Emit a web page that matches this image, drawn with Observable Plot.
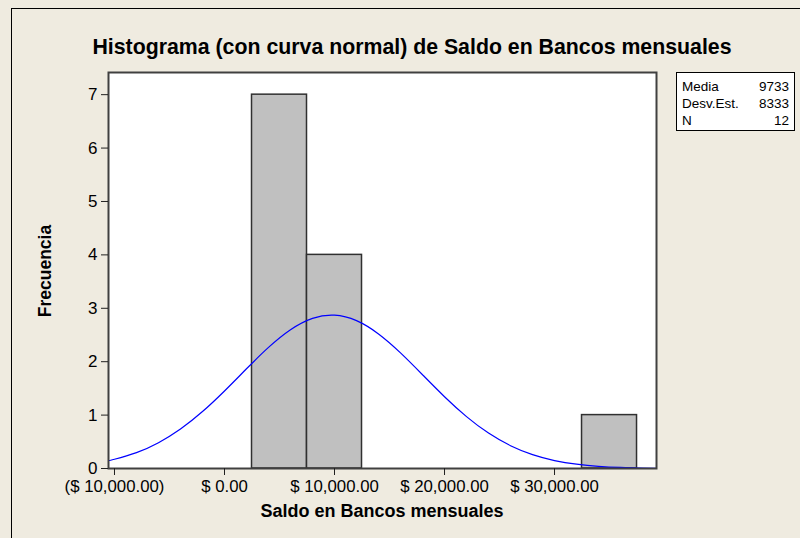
<!DOCTYPE html>
<html>
<head>
<meta charset="utf-8">
<script src="https://cdn.jsdelivr.net/npm/d3@7"></script>
<script src="https://cdn.jsdelivr.net/npm/@observablehq/plot@0.6"></script>
<style>
  html, body { margin: 0; padding: 0; background: #EFEBE0; }
  #wrap { position: relative; width: 800px; height: 538px; overflow: hidden; background: #EFEBE0; font-family: "Liberation Sans", Arial, sans-serif; }
  #border { position: absolute; left: 11px; top: 8px; width: 900px; height: 700px; border-left: 1px solid #000; border-top: 1px solid #000; }
  #chart { position: absolute; left: 0; top: 0; }
  .title { position: absolute; left: 0; width: 824px; top: 35px; text-align: center; font-weight: bold; font-size: 21.3px; color: #000; white-space: nowrap; }
  .xlabel { position: absolute; left: 108px; width: 548px; top: 501px; text-align: center; font-weight: bold; font-size: 18px; white-space: nowrap; }
  .ylabel { position: absolute; left: 45px; top: 271px; transform: translate(-50%, -50%) rotate(-90deg); font-weight: bold; font-size: 17.5px; white-space: nowrap; }
  #legend { position: absolute; left: 676px; top: 72px; width: 117px; border: 1px solid #000; background: #fff; font-size: 13.5px; padding-top: 5px; box-sizing: content-box; height: 52px; }
  #legend .row { position: relative; height: 17px; line-height: 17px; }
  #legend .k { position: absolute; left: 5px; }
  #legend .v { position: absolute; right: 5px; }
</style>
</head>
<body>
<div id="wrap">
  <div id="border"></div>
  <div id="chart"></div>
</div>
<script>
// Histogram bins (lower edge, upper edge) and counts
const binLow   = [2500, 7500, 12500, 17500, 22500, 27500, 32500];
const binHigh  = [7500, 12500, 17500, 22500, 27500, 32500, 37500];
const counts   = [7, 4, 0, 0, 0, 0, 1];

// Normal curve points
const curveX = [-10500, -10000, -8000, -6000, -4000, -2000, 0, 2000, 4000, 6000, 8000, 10000, 12000, 14000, 16000, 18000, 20000, 22000, 24000, 26000, 28000, 30000, 32000, 34000, 36000, 38000, 39270];
const curveY = [0.150, 0.174, 0.298, 0.483, 0.739, 1.066, 1.452, 1.867, 2.267, 2.598, 2.811, 2.871, 2.768, 2.519, 2.165, 1.756, 1.344, 0.972, 0.663, 0.427, 0.260, 0.149, 0.081, 0.041, 0.020, 0.009, 0.005];

// Axis ticks
const xTicks = [-10000, 0, 10000, 20000, 30000];
const xTickLabels = ["($ 10,000.00)", "$ 0.00", "$ 10,000.00", "$ 20,000.00", "$ 30,000.00"];
const yTicks = [0, 1, 2, 3, 4, 5, 6, 7];

// Texts
const titleText = "Histograma (con curva normal) de Saldo en Bancos mensuales";
const xLabel = "Saldo en Bancos mensuales";
const yLabel = "Frecuencia";
const statNames = ["Media", "Desv.Est.", "N"];
const statValues = ["9733", "8333", "12"];

const bins = binLow.map((lo, i) => ({x1: lo, x2: binHigh[i], y: counts[i]}));
const curve = curveX.map((x, i) => ({x, y: curveY[i]}));

const chart = Plot.plot({
  width: 800,
  height: 538,
  marginLeft: 108,
  marginRight: 144,
  marginTop: 72,
  marginBottom: 70,
  style: { background: "transparent", fontFamily: "'Liberation Sans', Arial, sans-serif", color: "#000" },
  x: { domain: [-10545, 39270] },
  y: { domain: [0, 7.415] },
  marks: [
    Plot.rect([0], { x1: -10545, x2: 39270, y1: 0, y2: 7.415, fill: "#fff" }),
    Plot.rectY(bins, { x1: "x1", x2: "x2", y: "y", fill: "#C0C0C0", stroke: "#303030", strokeWidth: 1.5 }),
    Plot.line(curve, { x: "x", y: "y", stroke: "#0000FF", strokeWidth: 1.2, curve: "natural" }),
    Plot.frame({ stroke: "#404040", strokeWidth: 2 }),
    Plot.axisY({ ticks: yTicks, tickSize: 7, tickPadding: 4, fontSize: 17, label: null, tickFormat: d => String(d), stroke: "#202020" }),
    Plot.axisX({ ticks: xTicks, tickSize: 7, tickPadding: 5, fontSize: 16.8, label: null, tickFormat: d => xTickLabels[xTicks.indexOf(d)], stroke: "#202020" })
  ]
});
document.getElementById("chart").appendChild(chart);

const wrap = document.getElementById("wrap");
const t = document.createElement("div"); t.className = "title"; t.textContent = titleText; wrap.appendChild(t);
const xl = document.createElement("div"); xl.className = "xlabel"; xl.textContent = xLabel; wrap.appendChild(xl);
const yl = document.createElement("div"); yl.className = "ylabel"; yl.textContent = yLabel; wrap.appendChild(yl);
const lg = document.createElement("div"); lg.id = "legend";
statNames.forEach((n, i) => {
  const r = document.createElement("div"); r.className = "row";
  const k = document.createElement("span"); k.className = "k"; k.textContent = n;
  const v = document.createElement("span"); v.className = "v"; v.textContent = statValues[i];
  r.appendChild(k); r.appendChild(v); lg.appendChild(r);
});
wrap.appendChild(lg);
</script>
</body>
</html>
